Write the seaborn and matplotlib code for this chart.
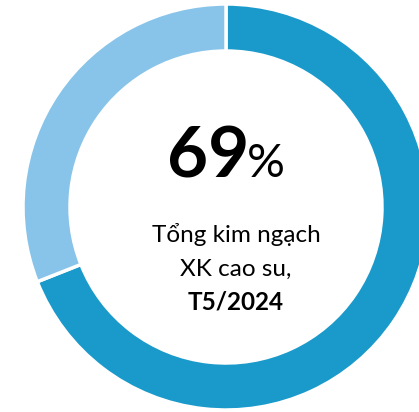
import matplotlib
matplotlib.use("Agg")
import matplotlib.pyplot as plt
import seaborn as sns

# Share of rubber exports, May 2024
labels = ["Cao su", "Khác"]
shares = [69, 31]
colors = ["#1A9ACB", "#88C4E9"]

headline_value = "69"
caption_lines = ["Tổng kim ngạch", "XK cao su,"]
caption_period = "T5/2024"

sns.set_theme(style="white")
plt.rcParams["font.family"] = ["Lato", "DejaVu Sans"]

W, H = 419, 412
fig = plt.figure(figsize=(W / 100, H / 100), dpi=100)
ax = fig.add_axes([0, 0, 1, 1])

cx, cy = 226, H - 207
ax.pie(shares, colors=colors, startangle=90, counterclock=False,
       center=(cx, cy), radius=203, frame=True,
       wedgeprops=dict(width=47, edgecolor="white", linewidth=2.5))
ax.set_xlim(0, W)
ax.set_ylim(0, H)
ax.set_aspect("equal")
ax.axis("off")

ax.text(249, H - 177, headline_value, ha="right", va="baseline",
        fontsize=51, fontweight="bold", color="black")
ax.text(247, H - 177, "%", ha="left", va="baseline",
        fontsize=34, color="black")

ax.text(236, H - 242, caption_lines[0], ha="center", va="baseline",
        fontsize=17.5, color="black")
ax.text(236, H - 276, caption_lines[1], ha="center", va="baseline",
        fontsize=17.5, color="black")
ax.text(236, H - 309, caption_period, ha="center", va="baseline",
        fontsize=17.5, fontweight="bold", color="black")

fig.savefig("out.png", dpi=100)
